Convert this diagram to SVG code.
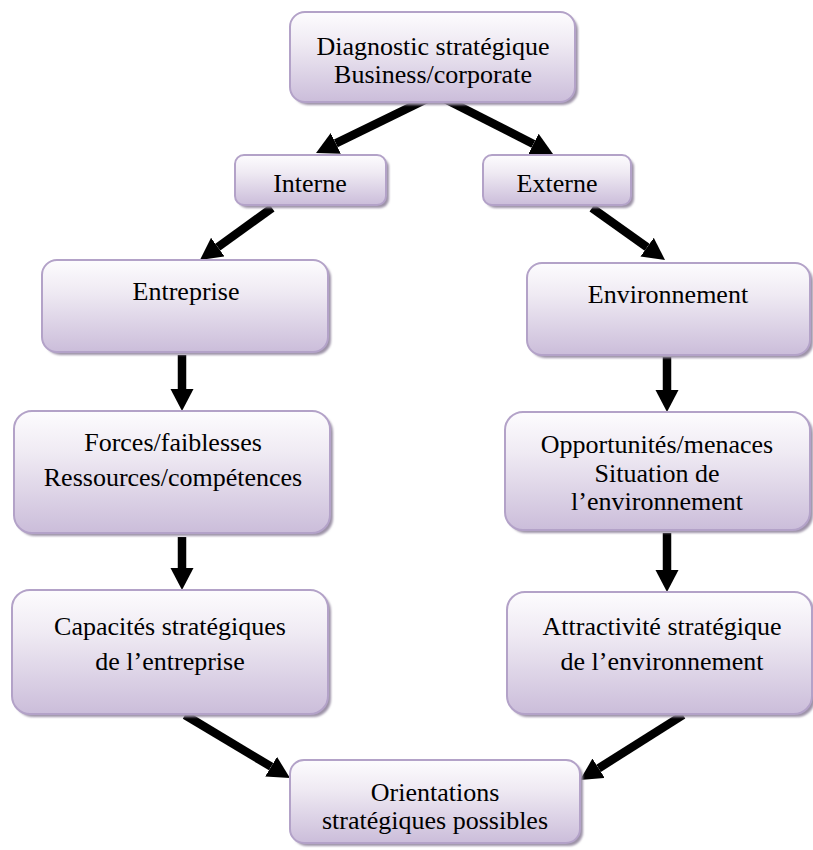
<svg xmlns="http://www.w3.org/2000/svg" width="813" height="850" viewBox="0 0 813 850">
  <defs>
    <linearGradient id="boxFill" x1="0" y1="0" x2="0" y2="1">
      <stop offset="0" stop-color="#fdfcfe"/>
      <stop offset="0.35" stop-color="#efeaf3"/>
      <stop offset="1" stop-color="#cbbdda"/>
    </linearGradient>
    <filter id="softShadow" x="-5%" y="-5%" width="115%" height="120%">
      <feGaussianBlur stdDeviation="1"/>
    </filter>
    <marker id="head" markerUnits="userSpaceOnUse" markerWidth="24" markerHeight="24" refX="0" refY="11.5" orient="auto">
      <path d="M0,0 L22,11.5 L0,23 z" fill="#000"/>
    </marker>
    <style>
      .shadow { fill: #9d93a8; filter: url(#softShadow); }
      .box { fill: url(#boxFill); stroke: #b3a2c8; stroke-width: 2; }
      .label { font-family: "Liberation Serif", serif; font-size: 26px; fill: #000; text-anchor: middle; }
      .arrow { stroke: #000; stroke-width: 8.5; fill: none; marker-end: url(#head); }
    </style>
  </defs>

  <!-- connectors -->
  <g id="connectors">
    <line class="arrow" x1="435" y1="95" x2="335.8" y2="143.4"/>
    <line class="arrow" x1="437" y1="95" x2="533.4" y2="144"/>
    <line class="arrow" x1="272" y1="208" x2="217.8" y2="247.1"/>
    <line class="arrow" x1="592" y1="208" x2="647.1" y2="247.2"/>
    <line class="arrow" x1="182" y1="355" x2="182" y2="389"/>
    <line class="arrow" x1="182" y1="537" x2="182" y2="568"/>
    <line class="arrow" x1="667" y1="357" x2="667" y2="390"/>
    <line class="arrow" x1="667" y1="533" x2="667" y2="570"/>
    <line class="arrow" x1="185" y1="715" x2="271.1" y2="766.7"/>
    <line class="arrow" x1="683" y1="715" x2="598.6" y2="768.3"/>
  </g>

  <!-- nodes -->
  <g id="diagnostic">
    <rect class="shadow" x="293" y="15" width="285" height="90" rx="15"/>
    <rect class="box" x="290" y="12" width="285" height="90" rx="15"/>
    <text class="label" x="433" y="55">Diagnostic stratégique</text>
    <text class="label" x="433" y="83">Business/corporate</text>
  </g>

  <g id="interne">
    <rect class="shadow" x="238" y="158" width="151" height="50" rx="9"/>
    <rect class="box" x="235" y="155" width="151" height="50" rx="9"/>
    <text class="label" x="310" y="192">Interne</text>
  </g>

  <g id="externe">
    <rect class="shadow" x="486" y="158" width="148" height="50" rx="9"/>
    <rect class="box" x="483" y="155" width="148" height="50" rx="9"/>
    <text class="label" x="557" y="192">Externe</text>
  </g>

  <g id="entreprise">
    <rect class="shadow" x="45" y="263" width="286" height="92" rx="15"/>
    <rect class="box" x="42" y="260" width="286" height="92" rx="15"/>
    <text class="label" x="186" y="300">Entreprise</text>
  </g>

  <g id="environnement">
    <rect class="shadow" x="530" y="266" width="283" height="92" rx="15"/>
    <rect class="box" x="527" y="263" width="283" height="92" rx="15"/>
    <text class="label" x="668" y="303">Environnement</text>
  </g>

  <g id="forces">
    <rect class="shadow" x="17" y="414" width="316" height="122" rx="18"/>
    <rect class="box" x="14" y="411" width="316" height="122" rx="18"/>
    <text class="label" x="173" y="451">Forces/faiblesses</text>
    <text class="label" x="173" y="486">Ressources/compétences</text>
  </g>

  <g id="opportunites">
    <rect class="shadow" x="508" y="415" width="305" height="118" rx="18"/>
    <rect class="box" x="505" y="412" width="305" height="118" rx="18"/>
    <text class="label" x="657" y="453">Opportunités/menaces</text>
    <text class="label" x="657" y="482">Situation de</text>
    <text class="label" x="657" y="510">l’environnement</text>
  </g>

  <g id="capacites">
    <rect class="shadow" x="15" y="593" width="316" height="124" rx="18"/>
    <rect class="box" x="12" y="590" width="316" height="124" rx="18"/>
    <text class="label" x="170" y="635">Capacités stratégiques</text>
    <text class="label" x="170" y="670">de l’entreprise</text>
  </g>

  <g id="attractivite">
    <rect class="shadow" x="510" y="595" width="305" height="122" rx="18"/>
    <rect class="box" x="507" y="592" width="305" height="122" rx="18"/>
    <text class="label" x="662" y="635">Attractivité stratégique</text>
    <text class="label" x="662" y="670">de l’environnement</text>
  </g>

  <g id="orientations">
    <rect class="shadow" x="293" y="763" width="290" height="83" rx="14"/>
    <rect class="box" x="290" y="760" width="290" height="83" rx="14"/>
    <text class="label" x="435" y="801">Orientations</text>
    <text class="label" x="435" y="829">stratégiques possibles</text>
  </g>
</svg>
